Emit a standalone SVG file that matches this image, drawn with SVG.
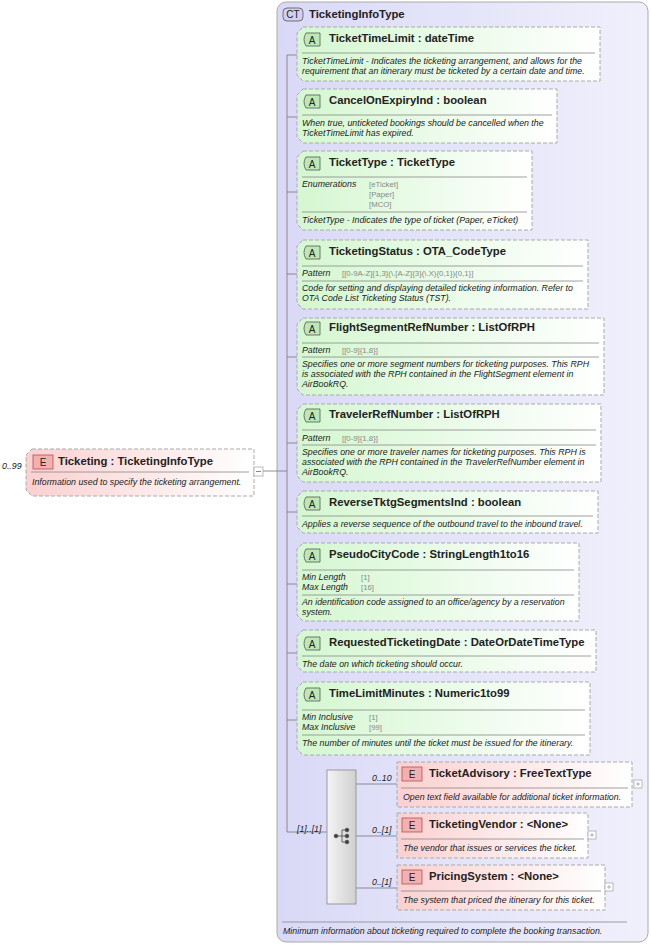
<svg xmlns="http://www.w3.org/2000/svg" width="651" height="946" viewBox="0 0 651 946">
<defs>
<linearGradient id="gA" x1="0" y1="0" x2="1" y2="0"><stop offset="0" stop-color="#d4f7d0"/><stop offset="1" stop-color="#ffffff"/></linearGradient>
<linearGradient id="gE" x1="0" y1="0" x2="1" y2="0"><stop offset="0" stop-color="#fbd0d0"/><stop offset="1" stop-color="#ffffff"/></linearGradient>
<linearGradient id="gCT" x1="0" y1="0" x2="1" y2="0"><stop offset="0" stop-color="#d9d9f7"/><stop offset="1" stop-color="#f0f0fc"/></linearGradient>
<linearGradient id="gS" x1="0" y1="0" x2="1" y2="0"><stop offset="0" stop-color="#f4f4f4"/><stop offset="1" stop-color="#d0d0d0"/></linearGradient>
</defs>
<style>
text{font-family:"Liberation Sans",Arial,sans-serif;fill:#222}
.t{font-size:11.3px;font-weight:bold}
.d{font-size:8.8px;font-style:italic}
.k{font-size:8.8px;font-style:italic}
.v{font-size:7.8px;fill:#888}
.box{stroke:#aaa;stroke-dasharray:4,2;stroke-width:1}
.sep{stroke:#888;stroke-width:0.8}
.ln{stroke:#777;stroke-width:0.8;fill:none}
.bA{fill:#bde8b6;stroke:#555;stroke-width:0.8}
.bE{fill:#f4b0b0;stroke:#a55;stroke-width:0.8}
.bt{font-size:10px;text-anchor:middle}
.pl{fill:#fff;stroke:#aaa;stroke-width:0.8}
.m{font-size:8.8px;font-style:italic}
</style>
<g id="ct">
<rect x="277" y="2" width="371" height="940" rx="9" fill="url(#gCT)" stroke="#aaa"/>
<rect x="283" y="8" width="20" height="13" rx="4" fill="#d0d0f0" stroke="#555" stroke-width="0.8"/>
<text x="293" y="18" class="bt">CT</text>
<text x="309" y="18" class="t">TicketingInfoType</text>
<line x1="282" y1="922" x2="627" y2="922" class="sep"/>
<text x="283" y="934" class="d">Minimum information about ticketing required to complete the booking transaction.</text>
</g>
<g id="connectors">
<line x1="263" y1="471" x2="287" y2="471" class="ln"/>
<line x1="287" y1="55" x2="287" y2="832" class="ln"/>
<line x1="287" y1="55" x2="297" y2="55" class="ln"/>
<line x1="287" y1="117" x2="297" y2="117" class="ln"/>
<line x1="287" y1="192" x2="297" y2="192" class="ln"/>
<line x1="287" y1="274" x2="297" y2="274" class="ln"/>
<line x1="287" y1="357" x2="297" y2="357" class="ln"/>
<line x1="287" y1="443" x2="297" y2="443" class="ln"/>
<line x1="287" y1="512" x2="297" y2="512" class="ln"/>
<line x1="287" y1="584" x2="297" y2="584" class="ln"/>
<line x1="287" y1="653" x2="297" y2="653" class="ln"/>
<line x1="287" y1="720" x2="297" y2="720" class="ln"/>
<line x1="287" y1="832" x2="327" y2="832" class="ln"/>
<line x1="356" y1="784" x2="397" y2="784" class="ln"/>
<line x1="356" y1="836" x2="397" y2="836" class="ln"/>
<line x1="356" y1="888" x2="397" y2="888" class="ln"/>
<text x="297" y="832" class="m">[1]..[1]</text>
<text x="372" y="781" class="m">0..10</text>
<text x="372" y="833" class="m">0..[1]</text>
<text x="372" y="885" class="m">0..[1]</text>
</g>
<g id="ticketing">
<text x="2" y="469" class="m">0..99</text>
<path d="M32,449 H254 V496 H32 L26,490 V455 Z" fill="url(#gE)" class="box"/>
<rect x="33" y="455" width="20" height="14" class="bE"/><text x="43" y="466" class="bt">E</text>
<text x="58" y="465" class="t">Ticketing : TicketingInfoType</text>
<line x1="31" y1="472" x2="249" y2="472" class="sep"/>
<text x="32" y="485" class="d">Information used to specify the ticketing arrangement.</text>
<rect x="254" y="467" width="9" height="9" class="pl"/><line x1="256" y1="471.5" x2="261" y2="471.5" stroke="#888"/>
</g>
<g id="a1">
<path d="M303,27 H600 V81 H303 L297,75 V33 Z" fill="url(#gA)" class="box"/>
<path d="M306,33 H320 V46 H306 Q302,39.5 306,33 Z" class="bA"/><text x="312" y="43.5" class="bt">A</text>
<text x="329" y="42" class="t">TicketTimeLimit : dateTime</text>
<line x1="302" y1="53" x2="595" y2="53" class="sep"/>
<text x="302" y="64" class="d">TicketTimeLimit - Indicates the ticketing arrangement, and allows for the</text>
<text x="302" y="74" class="d">requirement that an itinerary must be ticketed by a certain date and time.</text>
</g>
<g id="a2">
<path d="M303,89 H557 V143 H303 L297,137 V95 Z" fill="url(#gA)" class="box"/>
<path d="M306,95 H320 V108 H306 Q302,101.5 306,95 Z" class="bA"/><text x="312" y="105.5" class="bt">A</text>
<text x="329" y="104" class="t">CancelOnExpiryInd : boolean</text>
<line x1="302" y1="115" x2="552" y2="115" class="sep"/>
<text x="302" y="126" class="d">When true, unticketed bookings should be cancelled when the</text>
<text x="302" y="136" class="d">TicketTimeLimit has expired.</text>
</g>
<g id="a3">
<path d="M303,151 H532 V230 H303 L297,224 V157 Z" fill="url(#gA)" class="box"/>
<path d="M306,157 H320 V170 H306 Q302,163.5 306,157 Z" class="bA"/><text x="312" y="167.5" class="bt">A</text>
<text x="329" y="166" class="t">TicketType : TicketType</text>
<line x1="302" y1="177" x2="527" y2="177" class="sep"/>
<text x="302" y="187" class="k">Enumerations</text>
<text x="369" y="187" class="v">[eTicket]</text>
<text x="369" y="197" class="v">[Paper]</text>
<text x="369" y="207" class="v">[MCO]</text>
<line x1="302" y1="212" x2="527" y2="212" class="sep"/>
<text x="302" y="223" class="d">TicketType - Indicates the type of ticket (Paper, eTicket)</text>
</g>
<g id="a4">
<path d="M303,240 H588 V309 H303 L297,303 V246 Z" fill="url(#gA)" class="box"/>
<path d="M306,246 H320 V259 H306 Q302,252.5 306,246 Z" class="bA"/><text x="312" y="256.5" class="bt">A</text>
<text x="329" y="255" class="t">TicketingStatus : OTA_CodeType</text>
<line x1="302" y1="266" x2="583" y2="266" class="sep"/>
<text x="302" y="276" class="k">Pattern</text>
<text x="342" y="276" class="v">[[0-9A-Z]{1,3}(\.[A-Z]{3}(\.X){0,1}){0,1}]</text>
<line x1="302" y1="281" x2="583" y2="281" class="sep"/>
<text x="302" y="291" class="d">Code for setting and displaying detailed ticketing information. Refer to</text>
<text x="302" y="301" class="d">OTA Code List Ticketing Status (TST).</text>
</g>
<g id="a5">
<path d="M303,318 H604 V395 H303 L297,389 V324 Z" fill="url(#gA)" class="box"/>
<path d="M306,322 H320 V335 H306 Q302,328.5 306,322 Z" class="bA"/><text x="312" y="332.5" class="bt">A</text>
<text x="329" y="331" class="t">FlightSegmentRefNumber : ListOfRPH</text>
<line x1="302" y1="343" x2="599" y2="343" class="sep"/>
<text x="302" y="353" class="k">Pattern</text>
<text x="342" y="353" class="v">[[0-9]{1,8}]</text>
<line x1="302" y1="357" x2="599" y2="357" class="sep"/>
<text x="302" y="367" class="d">Specifies one or more segment numbers for ticketing purposes. This RPH</text>
<text x="302" y="377" class="d">is associated with the RPH contained in the FlightSegment element in</text>
<text x="302" y="387" class="d">AirBookRQ.</text>
</g>
<g id="a6">
<path d="M303,404 H601 V482 H303 L297,476 V410 Z" fill="url(#gA)" class="box"/>
<path d="M306,409 H320 V422 H306 Q302,415.5 306,409 Z" class="bA"/><text x="312" y="419.5" class="bt">A</text>
<text x="329" y="418" class="t">TravelerRefNumber : ListOfRPH</text>
<line x1="302" y1="430" x2="596" y2="430" class="sep"/>
<text x="302" y="441" class="k">Pattern</text>
<text x="342" y="441" class="v">[[0-9]{1,8}]</text>
<line x1="302" y1="445" x2="596" y2="445" class="sep"/>
<text x="302" y="455" class="d">Specifies one or more traveler names for ticketing purposes. This RPH is</text>
<text x="302" y="465" class="d">associated with the RPH contained in the TravelerRefNumber element in</text>
<text x="302" y="475" class="d">AirBookRQ.</text>
</g>
<g id="a7">
<path d="M303,491 H598 V533 H303 L297,527 V497 Z" fill="url(#gA)" class="box"/>
<path d="M306,497 H320 V510 H306 Q302,503.5 306,497 Z" class="bA"/><text x="312" y="507.5" class="bt">A</text>
<text x="329" y="506" class="t">ReverseTktgSegmentsInd : boolean</text>
<line x1="302" y1="516" x2="593" y2="516" class="sep"/>
<text x="302" y="527" class="d">Applies a reverse sequence of the outbound travel to the inbound travel.</text>
</g>
<g id="a8">
<path d="M303,543 H579 V621 H303 L297,615 V549 Z" fill="url(#gA)" class="box"/>
<path d="M306,549 H320 V562 H306 Q302,555.5 306,549 Z" class="bA"/><text x="312" y="559.5" class="bt">A</text>
<text x="329" y="558" class="t">PseudoCityCode : StringLength1to16</text>
<line x1="302" y1="570" x2="574" y2="570" class="sep"/>
<text x="302" y="580" class="k">Min Length</text>
<text x="361" y="580" class="v">[1]</text>
<text x="302" y="590" class="k">Max Length</text>
<text x="361" y="590" class="v">[16]</text>
<line x1="302" y1="595" x2="574" y2="595" class="sep"/>
<text x="302" y="605" class="d">An identification code assigned to an office/agency by a reservation</text>
<text x="302" y="615" class="d">system.</text>
</g>
<g id="a9">
<path d="M303,630 H596 V672 H303 L297,666 V636 Z" fill="url(#gA)" class="box"/>
<path d="M306,637 H320 V650 H306 Q302,643.5 306,637 Z" class="bA"/><text x="312" y="647.5" class="bt">A</text>
<text x="329" y="646" class="t">RequestedTicketingDate : DateOrDateTimeType</text>
<line x1="302" y1="656" x2="591" y2="656" class="sep"/>
<text x="302" y="667" class="d">The date on which ticketing should occur.</text>
</g>
<g id="a10">
<path d="M303,682 H590 V755 H303 L297,749 V688 Z" fill="url(#gA)" class="box"/>
<path d="M306,688 H320 V701 H306 Q302,694.5 306,688 Z" class="bA"/><text x="312" y="698.5" class="bt">A</text>
<text x="329" y="697" class="t">TimeLimitMinutes : Numeric1to99</text>
<line x1="302" y1="710" x2="585" y2="710" class="sep"/>
<text x="302" y="720" class="k">Min Inclusive</text>
<text x="369" y="720" class="v">[1]</text>
<text x="302" y="730" class="k">Max Inclusive</text>
<text x="369" y="730" class="v">[99]</text>
<line x1="302" y1="735" x2="585" y2="735" class="sep"/>
<text x="302" y="746" class="d">The number of minutes until the ticket must be issued for the itinerary.</text>
</g>
<g id="seq">
<rect x="327" y="770" width="29" height="134" fill="url(#gS)" stroke="#999"/>
<g fill="#444" stroke="#444" stroke-width="0.8">
<circle cx="336" cy="836" r="1.8"/><line x1="336" y1="836" x2="342" y2="836"/>
<line x1="342" y1="830" x2="342" y2="842"/>
<line x1="342" y1="830" x2="346" y2="830"/><line x1="342" y1="836" x2="346" y2="836"/><line x1="342" y1="842" x2="346" y2="842"/>
<circle cx="347" cy="830" r="1.8"/><circle cx="347" cy="836" r="1.8"/><circle cx="347" cy="842" r="1.8"/>
</g>
</g>
<g id="e1">
<rect x="397" y="762" width="235" height="45" fill="url(#gE)" class="box"/>
<rect x="402" y="767" width="20" height="14" class="bE"/><text x="412" y="778" class="bt">E</text>
<text x="429" y="777" class="t">TicketAdvisory : FreeTextType</text>
<line x1="401" y1="788" x2="628" y2="788" class="sep"/>
<text x="403" y="800" class="d">Open text field available for additional ticket information.</text>
<rect x="634" y="780" width="8" height="8" class="pl"/><path d="M636,784 H640 M638,782 V786" stroke="#999" stroke-width="0.7"/>
</g>
<g id="e2">
<rect x="397" y="813" width="191" height="45" fill="url(#gE)" class="box"/>
<rect x="402" y="818" width="20" height="14" class="bE"/><text x="412" y="829" class="bt">E</text>
<text x="429" y="828" class="t">TicketingVendor : &lt;None&gt;</text>
<line x1="401" y1="839" x2="584" y2="839" class="sep"/>
<text x="403" y="851" class="d">The vendor that issues or services the ticket.</text>
<rect x="588" y="831" width="8" height="8" class="pl"/><path d="M590,835 H594 M592,833 V837" stroke="#999" stroke-width="0.7"/>
</g>
<g id="e3">
<rect x="397" y="865" width="208" height="45" fill="url(#gE)" class="box"/>
<rect x="402" y="870" width="20" height="14" class="bE"/><text x="412" y="881" class="bt">E</text>
<text x="429" y="880" class="t">PricingSystem : &lt;None&gt;</text>
<line x1="401" y1="891" x2="601" y2="891" class="sep"/>
<text x="403" y="903" class="d">The system that priced the itinerary for this ticket.</text>
<rect x="605" y="883" width="8" height="8" class="pl"/><path d="M607,887 H611 M609,885 V889" stroke="#999" stroke-width="0.7"/>
</g>
</svg>
